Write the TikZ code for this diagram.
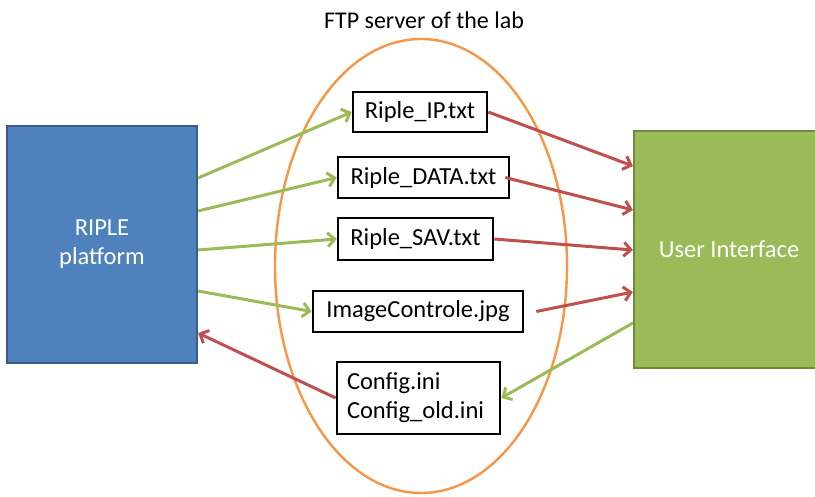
\documentclass[tikz,border=0pt]{standalone}
\usepackage{fontspec}
\setmainfont{Carlito}
\usetikzlibrary{arrows.meta}
\definecolor{bluefill}{HTML}{4F81BD}
\definecolor{blueline}{HTML}{385D8A}
\definecolor{greenfill}{HTML}{9BBB59}
\definecolor{greenline}{HTML}{71893F}
\definecolor{redarr}{HTML}{C0504D}
\definecolor{orangeell}{HTML}{F79646}
\tikzset{
  bigbox/.style={draw, line width=2.2pt, minimum width=190pt, minimum height=237pt, text=white, font=\fontsize{24.5}{29}\selectfont, align=center, inner sep=0pt},
  filebox/.style={draw=black, line width=2.6pt, fill=white, font=\fontsize{24.5}{29}\selectfont, inner sep=0pt},
  garrow/.style={draw=greenfill, line width=3pt, -{Straight Barb[length=7pt,width=14pt,line width=3pt]}},
  rarrow/.style={draw=redarr, line width=3pt, -{Straight Barb[length=7pt,width=14pt,line width=3pt]}},
}
\begin{document}
\begin{tikzpicture}[x=1pt,y=-1pt]
\useasboundingbox (0,0) rectangle (815,497);
\fill[white] (0,0) rectangle (815,497);
\begin{scope}
\clip (0,0) rectangle (815,497);
\node[bigbox, fill=bluefill, draw=blueline] (ripple) at (102,244.5) {RIPLE\\platform};
\node[bigbox, fill=greenfill, draw=greenline] (ui) at (729,249.5) {User Interface};
\end{scope}
\draw[orangeell, line width=2.4pt] (421,266) ellipse [x radius=146pt, y radius=227pt];
\node[font=\fontsize{24}{28}\selectfont] (title) at (424,20) {FTP server of the lab};
\node[filebox, minimum width=134pt, minimum height=40pt] (ip) at (420,112) {Riple\_IP.txt};
\node[filebox, minimum width=171pt, minimum height=41pt] (data) at (423.5,177.5) {Riple\_DATA.txt};
\node[filebox, minimum width=155pt, minimum height=42pt] (sav) at (415.5,239) {Riple\_SAV.txt};
\node[filebox, minimum width=210pt, minimum height=41pt] (img) at (418,311.5) {ImageControle.jpg};
\node[filebox, minimum width=163pt, minimum height=72pt, align=left, text width=143pt, inner xsep=10pt, font=\fontsize{24.5}{29}\selectfont] (cfg) at (418.5,398) {Config.ini\\Config\_old.ini};
% green arrows from RIPLE
\draw[garrow] ([yshift=66.5pt]ripple.east) -- (ip.west);
\draw[garrow] ([yshift=33.5pt]ripple.east) -- (data.west);
\draw[garrow] ([yshift=-5.5pt]ripple.east) -- (sav.west);
\draw[garrow] ([yshift=-46.5pt]ripple.east) -- (img.west);
\draw[rarrow] (cfg.west) -- ([yshift=-88.5pt]ripple.east);
% red arrows to UI
\draw[rarrow] (ip.east) -- ([yshift=83.5pt]ui.west);
\draw[rarrow] ([xshift=-5pt]data.east) -- ([yshift=39.5pt]ui.west);
\draw[rarrow] (sav.east) -- ([yshift=-0.5pt]ui.west);
\draw[rarrow] ([xshift=12pt]img.east) -- ([yshift=-42.5pt]ui.west);
\draw[garrow] ([yshift=-73.5pt]ui.west) -- (cfg.east);
\end{tikzpicture}
\end{document}
